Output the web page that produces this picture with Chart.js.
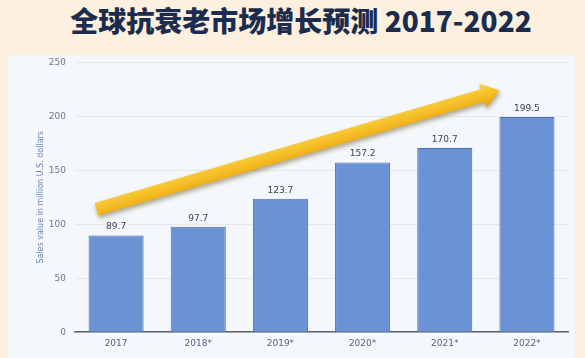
<!DOCTYPE html>
<html><head><meta charset="utf-8">
<script src="https://cdn.jsdelivr.net/npm/chart.js@4/dist/chart.umd.min.js"></script>
<style>
html,body{margin:0;padding:0;width:585px;height:358px;overflow:hidden;background:#fdf0df;}
#title{position:absolute;left:0;top:0;width:602px;height:50px;text-align:center;font-family:"Noto Sans CJK SC",sans-serif;font-weight:900;font-size:28px;line-height:40px;color:#1b2c4e;}
#panel{position:absolute;left:8px;top:55px;width:567px;height:303px;background:#f4f7fb;}
canvas{display:block;position:absolute;left:0;top:-7px;}
</style></head><body>
<div id="title">全球抗衰老市场增长预测 2017-2022</div>
<div id="panel"><canvas id="c" width="567" height="310"></canvas></div>
<script>
const categories = ["2017","2018*","2019*","2020*","2021*","2022*"];
const values = [89.7, 97.7, 123.7, 157.2, 170.7, 199.5];
const yTicks = [0, 50, 100, 150, 200, 250];
const yTitle = "Sales value in million U.S. dollars";
const arrowFrom = [-0.24, 114];
const arrowTo = [4.67, 224];

const labelPlugin = {
  id:'labels',
  afterDatasetsDraw(chart){
    const ctx = chart.ctx;
    const meta = chart.getDatasetMeta(0);
    ctx.save();
    ctx.font = '9px "DejaVu Sans", sans-serif';
    ctx.fillStyle = '#3a4352';
    ctx.textAlign = 'center';
    ctx.textBaseline = 'bottom';
    meta.data.forEach((b,i)=>{ ctx.fillText(values[i].toFixed(1), b.x, b.y - 4); });
    // arrow
    const xs = chart.scales.x, ys = chart.scales.y;
    const x1 = xs.getPixelForValue(arrowFrom[0]), y1 = ys.getPixelForValue(arrowFrom[1]);
    const x2 = xs.getPixelForValue(arrowTo[0]), y2 = ys.getPixelForValue(arrowTo[1]);
    const ang = Math.atan2(y2-y1, x2-x1);
    const len = Math.hypot(x2-x1, y2-y1);
    const bw = 6.5, hw = 12.5, hl = 18;
    ctx.translate(x1, y1);
    ctx.rotate(ang);
    ctx.beginPath();
    ctx.moveTo(0,-bw); ctx.lineTo(len-hl,-bw); ctx.lineTo(len-hl,-hw); ctx.lineTo(len,0);
    ctx.lineTo(len-hl,hw); ctx.lineTo(len-hl,bw); ctx.lineTo(0,bw); ctx.closePath();
    const g = ctx.createLinearGradient(0,-hw,0,hw);
    g.addColorStop(0,'#fbd44a'); g.addColorStop(0.5,'#f6be27'); g.addColorStop(1,'#e9a30c');
    ctx.shadowColor = 'rgba(90,70,20,0.45)';
    ctx.shadowBlur = 4; ctx.shadowOffsetX = 1; ctx.shadowOffsetY = 3;
    ctx.fillStyle = g;
    ctx.fill();
    ctx.restore();
  }
};

new Chart(document.getElementById('c'), {
  type:'bar',
  data:{labels:categories, datasets:[{data:values, backgroundColor:'#6b93d3', borderColor:'#4c72ad', borderWidth:1, categoryPercentage:0.67, barPercentage:1}]},
  options:{
    responsive:false, animation:false,
    layout:{padding:{left:8,right:7,top:0,bottom:3}},
    plugins:{legend:{display:false}, tooltip:{enabled:false}},
    scales:{
      x:{grid:{display:false, drawTicks:false}, border:{display:true,color:'#5d6470',width:1.5},
         ticks:{color:'#56637e', font:{size:9,family:'"DejaVu Sans", sans-serif'}, padding:6}},
      y:{min:0,max:250, afterBuildTicks(s){ s.ticks = yTicks.map(v=>({value:v})); },
         afterFit(s){ s.width = 59; },
         grid:{color:'#e3e7ee', drawTicks:false}, border:{display:false},
         ticks:{color:'#6b7893', font:{size:9,family:'"DejaVu Sans", sans-serif'}, padding:9},
         title:{display:true, text:yTitle, color:'#6e84ad', font:{size:8,family:'"DejaVu Sans", sans-serif'}, padding:{top:20,bottom:0}}}
    }
  },
  plugins:[labelPlugin]
});
</script>
</body></html>
